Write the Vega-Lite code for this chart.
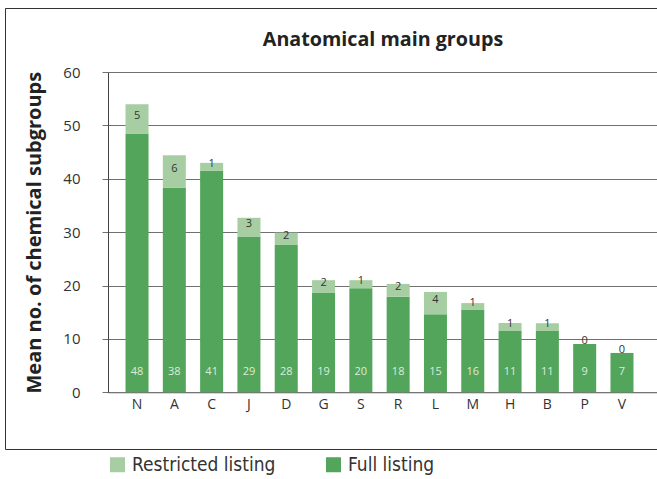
{
  "$schema": "https://vega.github.io/schema/vega-lite/v6.json",
  "autosize": {"type": "none"},
  "width": 652,
  "height": 441,
  "padding": {"left": 5, "top": 8, "right": 0, "bottom": 30},
  "background": "white",
  "config": {
    "view": {"stroke": "#333333", "strokeWidth": 1, "strokeDash": [652, 441, 1093]},
    "font": "Open Sans"
  },
  "title": {
    "text": "Anatomical main groups",
    "anchor": "middle",
    "frame": "group",
    "dx": 52,
    "offset": -58,
    "baseline": "alphabetic",
    "fontSize": 19.7,
    "fontWeight": "bold",
    "color": "#222222",
    "font": "Open Sans"
  },
  "data": {
    "values": [
      {"group": "N", "listing": "Full listing", "value": 48.49},
      {"group": "N", "listing": "Restricted listing", "value": 5.49},
      {"group": "A", "listing": "Full listing", "value": 38.3},
      {"group": "A", "listing": "Restricted listing", "value": 6.1},
      {"group": "C", "listing": "Full listing", "value": 41.49},
      {"group": "C", "listing": "Restricted listing", "value": 1.49},
      {"group": "J", "listing": "Full listing", "value": 29.2},
      {"group": "J", "listing": "Restricted listing", "value": 3.49},
      {"group": "D", "listing": "Full listing", "value": 27.6},
      {"group": "D", "listing": "Restricted listing", "value": 2.3},
      {"group": "G", "listing": "Full listing", "value": 18.7},
      {"group": "G", "listing": "Restricted listing", "value": 2.3},
      {"group": "S", "listing": "Full listing", "value": 19.51},
      {"group": "S", "listing": "Restricted listing", "value": 1.49},
      {"group": "R", "listing": "Full listing", "value": 17.9},
      {"group": "R", "listing": "Restricted listing", "value": 2.4},
      {"group": "L", "listing": "Full listing", "value": 14.6},
      {"group": "L", "listing": "Restricted listing", "value": 4.2},
      {"group": "M", "listing": "Full listing", "value": 15.51},
      {"group": "M", "listing": "Restricted listing", "value": 1.2},
      {"group": "H", "listing": "Full listing", "value": 11.49},
      {"group": "H", "listing": "Restricted listing", "value": 1.49},
      {"group": "B", "listing": "Full listing", "value": 11.49},
      {"group": "B", "listing": "Restricted listing", "value": 1.45},
      {"group": "P", "listing": "Full listing", "value": 9.06},
      {"group": "P", "listing": "Restricted listing", "value": 0},
      {"group": "V", "listing": "Full listing", "value": 7.37},
      {"group": "V", "listing": "Restricted listing", "value": 0}
    ]
  },
  "layer": [
    {
      "transform": [
        {
          "stack": "value",
          "groupby": ["group"],
          "sort": [{"field": "listing", "order": "ascending"}],
          "as": ["v0", "v1"]
        }
      ],
      "mark": {"type": "bar"},
      "encoding": {
        "x": {
          "field": "group",
          "type": "nominal",
          "sort": null,
          "scale": {"range": [103, 652], "paddingInner": 0.383, "paddingOuter": 0.55, "align": 0.427},
          "axis": {
            "orient": "bottom",
            "offset": -56.7,
            "ticks": false,
            "labelPadding": 5,
            "labelFontSize": 14,
            "labelAngle": 0,
            "labelColor": "#333333",
            "domainColor": "#777777",
            "title": null
          }
        },
        "y": {
          "field": "v0",
          "type": "quantitative",
          "scale": {"domain": [0, 60], "range": [384.3, 64], "nice": false, "zero": false},
          "axis": {
            "values": [0, 10, 20, 30, 40, 50, 60],
            "offset": -103,
            "grid": true,
            "gridColor": "#707070",
            "tickSize": 6,
            "tickColor": "#707070",
            "domainColor": "#444444",
            "labelPadding": 22,
            "labelFontSize": 15,
            "labelColor": "#333333",
            "title": "Mean no. of chemical subgroups",
            "titleFontSize": 20,
            "titleFontWeight": "bold",
            "titleColor": "#222222",
            "titlePadding": 18
          }
        },
        "y2": {"field": "v1"},
        "color": {
          "field": "listing",
          "type": "nominal",
          "scale": {"domain": ["Restricted listing", "Full listing"], "range": ["#a6cea2", "#53a55b"]},
          "legend": {
            "orient": "none",
            "legendX": 103,
            "legendY": 447,
            "direction": "horizontal",
            "title": null,
            "symbolType": "square",
            "symbolSize": 225,
            "symbolStrokeWidth": 0,
            "labelFontSize": 19,
            "labelFont": "DejaVu Sans Condensed",
            "labelColor": "#333333",
            "labelOffset": 5,
            "columnPadding": 48,
            "encode": {
              "symbols": {
                "update": {
                  "fill": {"signal": "datum.value === 'Full listing' ? '#009a44' : '#a6cea2'"}
                }
              }
            }
          }
        }
      }
    },
    {
      "transform": [
        {
          "stack": "value",
          "groupby": ["group"],
          "sort": [{"field": "listing", "order": "ascending"}],
          "as": ["v0", "v1"]
        },
        {"filter": "datum.listing === 'Full listing'"}
      ],
      "mark": {"type": "text", "dy": -20, "fontSize": 11, "color": "#dcecd9", "baseline": "middle"},
      "encoding": {
        "x": {"field": "group", "type": "nominal", "sort": null},
        "y": {"field": "v0", "type": "quantitative"},
        "text": {"field": "value", "type": "quantitative", "format": ".0f"}
      }
    },
    {
      "mark": {"type": "text", "dy": -3, "fontSize": 11, "color": "#333333", "baseline": "middle"},
      "encoding": {
        "x": {"field": "group", "type": "nominal", "sort": null},
        "y": {"field": "value", "type": "quantitative", "stack": "zero", "bandPosition": 0.5},
        "detail": {"field": "listing"},
        "order": {"field": "listing", "sort": "ascending"},
        "text": {
          "condition": {"test": "datum.listing === 'Restricted listing'", "field": "value", "type": "quantitative", "format": ".0f"},
          "value": ""
        }
      }
    }
  ]
}
